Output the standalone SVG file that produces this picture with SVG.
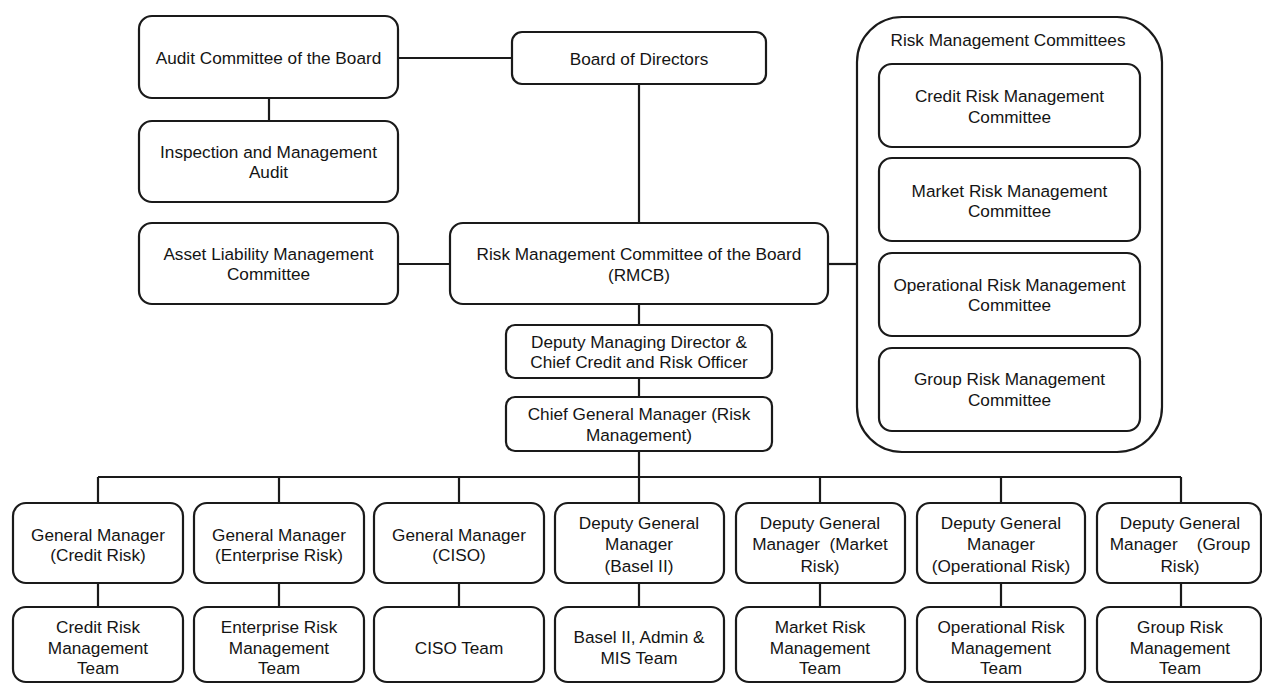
<svg xmlns="http://www.w3.org/2000/svg" width="1262" height="684" viewBox="0 0 1262 684">
<style>
.b{fill:#fff;stroke:#1a1a1a;stroke-width:2.2}
.c{fill:none;stroke:#1a1a1a;stroke-width:2.2}
text{font-family:"Liberation Sans",Arial,sans-serif;font-size:17.2px;fill:#141414;text-anchor:middle}
</style>
<rect width="1262" height="684" fill="#fff"/>
<g id="connectors" class="c">
<path d="M398 58H512"/>
<path d="M269 98V121"/>
<path d="M398 264H450"/>
<path d="M639 84V223"/>
<path d="M828 264H857"/>
<path d="M639 304V325"/>
<path d="M639 378V397"/>
<path d="M639 451V477"/>
<path d="M98 477H1181"/>
<path d="M98 477V503M279 477V503M459 477V503M639 477V503M820 477V503M1001 477V503M1181 477V503"/>
<path d="M98 583V607M279 583V607M459 583V607M639 583V607M820 583V607M1001 583V607M1181 583V607"/>
</g>
<g id="audit"><rect class="b" x="139" y="16" width="259" height="82" rx="13"/><text x="268.5" y="64">Audit Committee of the Board</text></g>
<g id="inspection"><rect class="b" x="139" y="121" width="259" height="81" rx="13"/><text x="268.5" y="158">Inspection and Management</text><text x="268.5" y="178">Audit</text></g>
<g id="alm"><rect class="b" x="139" y="223" width="259" height="81" rx="13"/><text x="268.5" y="260">Asset Liability Management</text><text x="268.5" y="280">Committee</text></g>
<g id="board"><rect class="b" x="512" y="32" width="254" height="52" rx="10"/><text x="639" y="65">Board of Directors</text></g>
<g id="rmcb"><rect class="b" x="450" y="223" width="378" height="81" rx="13"/><text x="639" y="260">Risk Management Committee of the Board</text><text x="639" y="281">(RMCB)</text></g>
<g id="dmd"><rect class="b" x="506" y="325" width="266" height="53" rx="9"/><text x="639" y="348">Deputy Managing Director &amp;</text><text x="639" y="368">Chief Credit and Risk Officer</text></g>
<g id="cgm"><rect class="b" x="506" y="397" width="266" height="54" rx="9"/><text x="639" y="420">Chief General Manager (Risk</text><text x="639" y="441">Management)</text></g>
<g id="rmc">
<rect class="b" x="857" y="17" width="305" height="435" rx="45"/>
<text x="1008" y="46">Risk Management Committees</text>
<g id="crmc"><rect class="b" x="879" y="64" width="261" height="83" rx="13"/><text x="1009.5" y="102">Credit Risk Management</text><text x="1009.5" y="123">Committee</text></g>
<g id="mrmc"><rect class="b" x="879" y="158" width="261" height="83" rx="13"/><text x="1009.5" y="197">Market Risk Management</text><text x="1009.5" y="217">Committee</text></g>
<g id="ormc"><rect class="b" x="879" y="253" width="261" height="83" rx="13"/><text x="1009.5" y="291">Operational Risk Management</text><text x="1009.5" y="311">Committee</text></g>
<g id="grmc"><rect class="b" x="879" y="348" width="261" height="83" rx="13"/><text x="1009.5" y="385">Group Risk Management</text><text x="1009.5" y="406">Committee</text></g>
</g>
<g id="gm-credit"><rect class="b" x="13" y="503" width="170" height="80" rx="13"/><text x="98" y="541">General Manager</text><text x="98" y="561">(Credit Risk)</text></g>
<g id="gm-enterprise"><rect class="b" x="194" y="503" width="170" height="80" rx="13"/><text x="279" y="541">General Manager</text><text x="279" y="561">(Enterprise Risk)</text></g>
<g id="gm-ciso"><rect class="b" x="374" y="503" width="170" height="80" rx="13"/><text x="459" y="541">General Manager</text><text x="459" y="561">(CISO)</text></g>
<g id="dgm-basel"><rect class="b" x="555" y="503" width="169" height="80" rx="13"/><text x="639" y="529">Deputy General</text><text x="639" y="550">Manager</text><text x="639" y="572">(Basel II)</text></g>
<g id="dgm-market"><rect class="b" x="736" y="503" width="169" height="80" rx="13"/><text x="820" y="529">Deputy General</text><text x="820" y="550" xml:space="preserve">Manager  (Market</text><text x="820" y="572">Risk)</text></g>
<g id="dgm-operational"><rect class="b" x="917" y="503" width="168" height="80" rx="13"/><text x="1001" y="529">Deputy General</text><text x="1001" y="550">Manager</text><text x="1001" y="572">(Operational Risk)</text></g>
<g id="dgm-group"><rect class="b" x="1097" y="503" width="164" height="80" rx="13"/><text x="1180" y="529">Deputy General</text><text x="1180" y="550" xml:space="preserve">Manager    (Group</text><text x="1180" y="572">Risk)</text></g>
<g id="team-credit"><rect class="b" x="13" y="607" width="170" height="75" rx="13"/><text x="98" y="633">Credit Risk</text><text x="98" y="654">Management</text><text x="98" y="674">Team</text></g>
<g id="team-enterprise"><rect class="b" x="194" y="607" width="170" height="75" rx="13"/><text x="279" y="633">Enterprise Risk</text><text x="279" y="654">Management</text><text x="279" y="674">Team</text></g>
<g id="team-ciso"><rect class="b" x="374" y="607" width="170" height="75" rx="13"/><text x="459" y="654">CISO Team</text></g>
<g id="team-basel"><rect class="b" x="555" y="607" width="169" height="75" rx="13"/><text x="639" y="643">Basel II, Admin &amp;</text><text x="639" y="664">MIS Team</text></g>
<g id="team-market"><rect class="b" x="736" y="607" width="169" height="75" rx="13"/><text x="820" y="633">Market Risk</text><text x="820" y="654">Management</text><text x="820" y="674">Team</text></g>
<g id="team-operational"><rect class="b" x="917" y="607" width="168" height="75" rx="13"/><text x="1001" y="633">Operational Risk</text><text x="1001" y="654">Management</text><text x="1001" y="674">Team</text></g>
<g id="team-group"><rect class="b" x="1097" y="607" width="164" height="75" rx="13"/><text x="1180" y="633">Group Risk</text><text x="1180" y="654">Management</text><text x="1180" y="674">Team</text></g>
</svg>
